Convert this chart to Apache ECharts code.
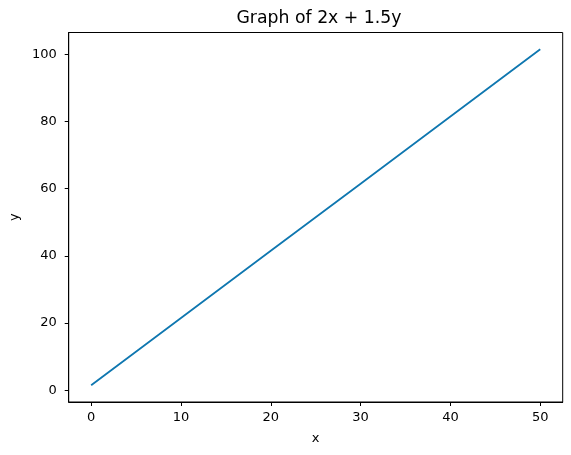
<!DOCTYPE html>
<html>
<head>
<meta charset="utf-8">
<script src="https://cdn.jsdelivr.net/npm/echarts@6/dist/echarts.min.js"></script>
<style>
html,body{margin:0;padding:0;background:#fff;}
#chart{width:571px;height:455px;}
</style>
</head>
<body>
<div id="chart"></div>
<script>
const titleText = 'Graph of 2x + 1.5y';
const xValues = [0, 10, 20, 30, 40, 50];
const yValues = [1.5, 21.5, 41.5, 61.5, 81.5, 101.5];
const xTicks = [0, 10, 20, 30, 40, 50];
const yTicks = [0, 20, 40, 60, 80, 100];
const xName = 'x';
const yName = 'y';

const FONT = "'DejaVu Sans', sans-serif";
const chart = echarts.init(document.getElementById('chart'), null, {renderer: 'canvas'});
const pts = xValues.map((x, i) => [x, yValues[i]]);

chart.setOption({
  animation: false,
  backgroundColor: '#ffffff',
  title: {
    text: titleText,
    left: 314,
    top: 5,
    textAlign: 'center',
    textStyle: {fontFamily: FONT, fontSize: 17.3, fontWeight: 'normal', color: '#000'}
  },
  grid: {
    left: 66.5, right: 8.3, top: 32.5, bottom: 53,
    show: true, borderColor: '#000', borderWidth: 1, backgroundColor: 'transparent'
  },
  xAxis: {
    type: 'value',
    min: -2.5, max: 52.5,
    name: xName,
    nameLocation: 'middle',
    nameGap: 30,
    nameTextStyle: {fontFamily: FONT, fontSize: 13, color: '#000'},
    splitLine: {show: false},
    axisLine: {show: true, onZero: false, lineStyle: {color: '#000', width: 1}},
    axisTick: {show: true, length: 4, lineStyle: {color: '#000', width: 1}, customValues: xTicks},
    axisLabel: {fontFamily: FONT, fontSize: 13, color: '#000', margin: 9, customValues: xTicks, showMinLabel: true, showMaxLabel: true}
  },
  yAxis: {
    type: 'value',
    min: -3.5, max: 106.5,
    name: yName,
    nameLocation: 'middle',
    nameGap: 40,
    nameTextStyle: {fontFamily: FONT, fontSize: 13, color: '#000'},
    splitLine: {show: false},
    axisLine: {show: true, onZero: false, lineStyle: {color: '#000', width: 1}},
    axisTick: {show: true, length: 4, lineStyle: {color: '#000', width: 1}, customValues: yTicks},
    axisLabel: {fontFamily: FONT, fontSize: 13, color: '#000', margin: 12, customValues: yTicks}
  },
  series: [{
    type: 'line',
    data: pts,
    showSymbol: false,
    symbol: 'none',
    lineStyle: {color: '#0f77b0', width: 1.8},
    itemStyle: {color: '#0f77b0'}
  }]
});
</script>
</body>
</html>
